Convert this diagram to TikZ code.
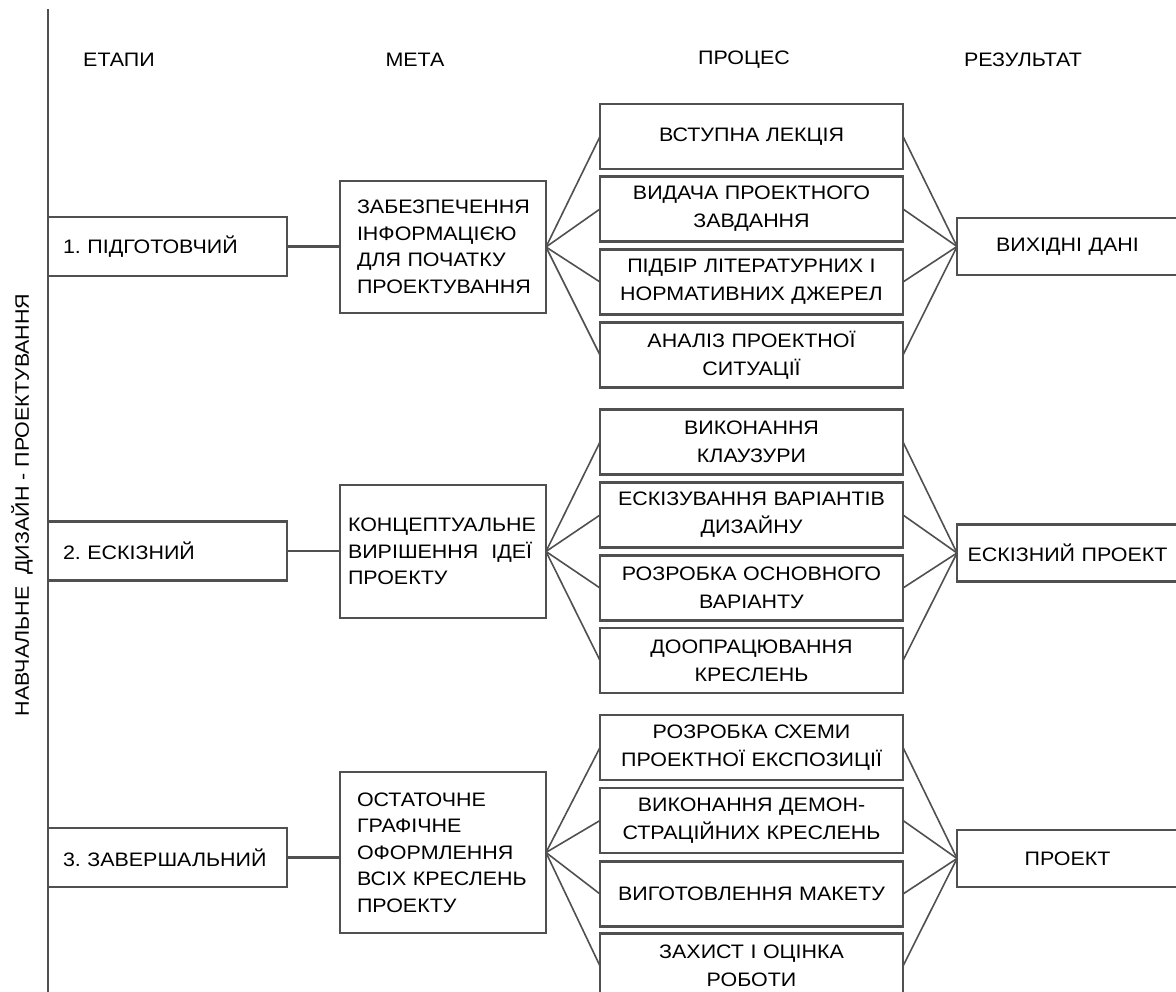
\documentclass[tikz,border=0pt]{standalone}
\usepackage{fontspec}
\setmainfont{Liberation Sans}[FakeStretch=1.1]
\newfontfamily\widefont{Liberation Sans}[FakeStretch=1.1, WordSpace=1.9]
\definecolor{lc}{HTML}{505050}
\frenchspacing
\begin{document}
\begin{tikzpicture}[x=1pt,y=-1pt,
  conn/.style={draw=lc, line width=2.2pt},
  fan/.style={draw=lc, line width=1.6pt},
  basebox/.style={draw=lc, line width=2.6pt, inner sep=0pt, outer sep=0pt, rectangle},
  stagebox/.style={basebox, minimum width=239pt, minimum height=59pt, text width=209pt, align=left,
    font=\fontsize{19.5}{27}\selectfont},
  goalbox/.style={basebox, minimum width=206pt, text width=172pt, align=left,
    font=\fontsize{19.5}{26.5}\selectfont},
  procbox/.style={basebox, minimum width=303pt, minimum height=65pt, text width=296pt, align=center,
    font=\widefont\fontsize{19.5}{28}\selectfont},
  resbox/.style={basebox, minimum width=221pt, minimum height=57pt, text width=219pt, align=center,
    font=\widefont\fontsize{19.5}{27}\selectfont},
  header/.style={font=\fontsize{19.5}{22}\selectfont, inner sep=0pt},
]
\useasboundingbox (0,0) rectangle (1176,992);
\begin{scope}
\clip (0,0) rectangle (1176,992);

% vertical axis
\coordinate (axtop) at (48,9);
\coordinate (axbot) at (48,1000);
\draw[conn] (axtop) -- (axbot);
\node[rotate=90, inner sep=0pt, font=\fontsize{19.5}{22}\selectfont] (vlabel) at (22,505) {НАВЧАЛЬНЕ\hspace{0.6em}ДИЗАЙН - ПРОЕКТУВАННЯ};

% headers
\node[header] (h1) at (119,60) {ЕТАПИ};
\node[header] (h2) at (415,60) {МЕТА};
\node[header] (h3) at (744,60) {ПРОЦЕС};
\node[header] (h4) at (1023,60) {РЕЗУЛЬТАТ};

% stages
\node[stagebox] (s1) at (167.5,246.5) {1. ПІДГОТОВЧИЙ};
\node[stagebox] (s2) at (167.5,551) {2. ЕСКІЗНИЙ};
\node[stagebox] (s3) at (167.5,857.5) {3. ЗАВЕРШАЛЬНИЙ};

% goals
\node[goalbox, minimum height=132pt] (g1) at (443,247) {ЗАБЕЗПЕЧЕННЯ\\ІНФОРМАЦІЄЮ\\ДЛЯ ПОЧАТКУ\\ПРОЕКТУВАННЯ};
\node[goalbox, minimum height=133pt, text width=190pt] (g2) at (443,551.5) {КОНЦЕПТУАЛЬНЕ\\ВИРІШЕННЯ\ \ ІДЕЇ\\ПРОЕКТУ};
\node[goalbox, minimum height=161pt] (g3) at (443,852.5) {ОСТАТОЧНЕ\\ГРАФІЧНЕ\\ОФОРМЛЕННЯ\\ВСІХ КРЕСЛЕНЬ\\ПРОЕКТУ};

% processes group 1
\node[procbox] (p11) at (751.5,136.5) {ВСТУПНА ЛЕКЦІЯ};
\node[procbox] (p12) at (751.5,209) {ВИДАЧА ПРОЕКТНОГО\\ЗАВДАННЯ};
\node[procbox] (p13) at (751.5,282) {ПІДБІР ЛІТЕРАТУРНИХ І\\НОРМАТИВНИХ ДЖЕРЕЛ};
\node[procbox] (p14) at (751.5,355) {АНАЛІЗ ПРОЕКТНОЇ\\СИТУАЦІЇ};
% group 2
\node[procbox] (p21) at (751.5,442) {ВИКОНАННЯ\\КЛАУЗУРИ};
\node[procbox] (p22) at (751.5,515) {ЕСКІЗУВАННЯ ВАРІАНТІВ\\ДИЗАЙНУ};
\node[procbox] (p23) at (751.5,588) {РОЗРОБКА ОСНОВНОГО\\ВАРІАНТУ};
\node[procbox] (p24) at (751.5,660.5) {ДООПРАЦЮВАННЯ\\КРЕСЛЕНЬ};
% group 3
\node[procbox] (p31) at (751.5,747.5) {РОЗРОБКА СХЕМИ\\ПРОЕКТНОЇ ЕКСПОЗИЦІЇ};
\node[procbox] (p32) at (751.5,820.5) {ВИКОНАННЯ ДЕМОН-\\СТРАЦІЙНИХ КРЕСЛЕНЬ};
\node[procbox] (p33) at (751.5,894) {ВИГОТОВЛЕННЯ МАКЕТУ};
\node[procbox] (p34) at (751.5,966) {ЗАХИСТ І ОЦІНКА\\РОБОТИ};

% results
\node[resbox] (r1) at (1067.5,246.5) {ВИХІДНІ ДАНІ};
\node[resbox] (r2) at (1067.5,553) {ЕСКІЗНИЙ ПРОЕКТ};
\node[resbox] (r3) at (1067.5,858.5) {ПРОЕКТ};

% connectors stage -> goal
\foreach \i in {1,2,3} {
  \draw[conn] (s\i.east) -- (s\i.east -| g\i.west);
}
% goal -> processes -> result
\foreach \g in {1,2,3} {
  \foreach \p in {1,2,3,4} {
    \draw[fan] (g\g.east) -- (p\g\p.west);
    \draw[fan] (p\g\p.east) -- (r\g.west);
  }
}
\end{scope}
\end{tikzpicture}
\end{document}
